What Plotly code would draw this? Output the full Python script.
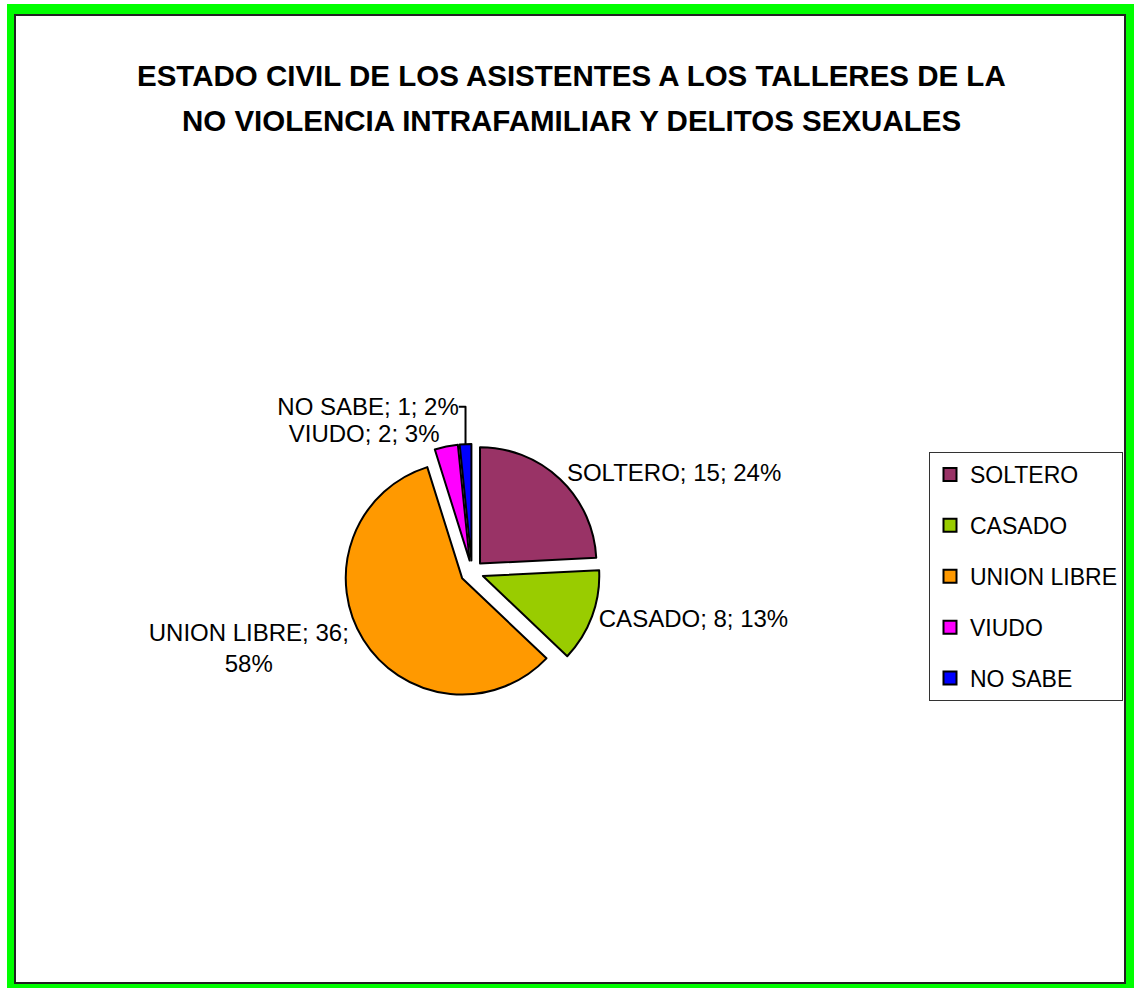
import plotly.graph_objects as go

categories = ["SOLTERO", "CASADO", "UNION LIBRE", "VIUDO", "NO SABE"]
values = [15, 8, 36, 2, 1]
colors = ["#993366", "#99CC00", "#FF9900", "#FF00FF", "#0000FF"]
title_lines = ["ESTADO CIVIL DE LOS ASISTENTES A LOS TALLERES DE LA",
               "NO VIOLENCIA INTRAFAMILIAR Y DELITOS SEXUALES"]

W, H = 1134, 988
FONT = "Liberation Sans, Arial, sans-serif"

templates = ["%{label}; %{value}; %{percent:.0%}"] * len(categories)
templates[2] = "%{label}; %{value};<br>%{percent:.0%}"

cx, cy, r = 472, 572, 128
fig = go.Figure(go.Pie(
    labels=categories,
    values=values,
    sort=False,
    direction="clockwise",
    rotation=0,
    pull=[0.1] * len(categories),
    marker=dict(colors=colors, line=dict(color="black", width=2)),
    texttemplate=templates,
    textposition="outside",
    textfont=dict(family=FONT, size=24, color="black"),
    hoverinfo="label+value+percent",
    domain=dict(x=[(cx - r) / W, (cx + r) / W], y=[1 - (cy + r) / H, 1 - (cy - r) / H]),
    showlegend=False,
))

# legend entries (one per category, same colours as the slices)
for name, col in zip(categories, colors):
    fig.add_trace(go.Scatter(
        x=[None], y=[None], mode="markers", name=name, legendgroup=name,
        marker=dict(symbol="square", size=13, color=col, line=dict(color="black", width=2)),
        showlegend=True, hoverinfo="skip",
    ))

annotations = []
for i, line in enumerate(title_lines):
    annotations.append(dict(
        text=line, xref="paper", yref="paper", x=571 / W, y=1 - (75 + 45 * i) / H,
        xanchor="center", yanchor="middle", showarrow=False,
        font=dict(family=FONT, size=29.5, color="black", weight="bold"),
    ))

fig.update_layout(
    width=W, height=H,
    margin=dict(l=0, r=0, t=0, b=0),
    paper_bgcolor="white",
    plot_bgcolor="rgba(0,0,0,0)",
    xaxis=dict(visible=False), yaxis=dict(visible=False),
    annotations=annotations,
    legend=dict(x=929 / W, y=1 - 452 / H, xanchor="left", yanchor="top",
                bordercolor="#333333", borderwidth=1, bgcolor="white",
                font=dict(family=FONT, size=23, color="black"),
                tracegroupgap=18, itemwidth=30),
    shapes=[
        dict(type="rect", xref="paper", yref="paper", x0=7 / W, x1=1, y0=0, y1=1 - 4 / H,
             fillcolor="#00FF00", line=dict(width=0), layer="below"),
        dict(type="rect", xref="paper", yref="paper", x0=15 / W, x1=1125 / W, y0=1 - 983 / H, y1=1 - 15 / H,
             fillcolor="white", line=dict(color="#222222", width=2), layer="below"),
    ],
)

fig.write_html("out.html", config={"displayModeBar": False},
               post_script="document.body.style.margin='0';")
